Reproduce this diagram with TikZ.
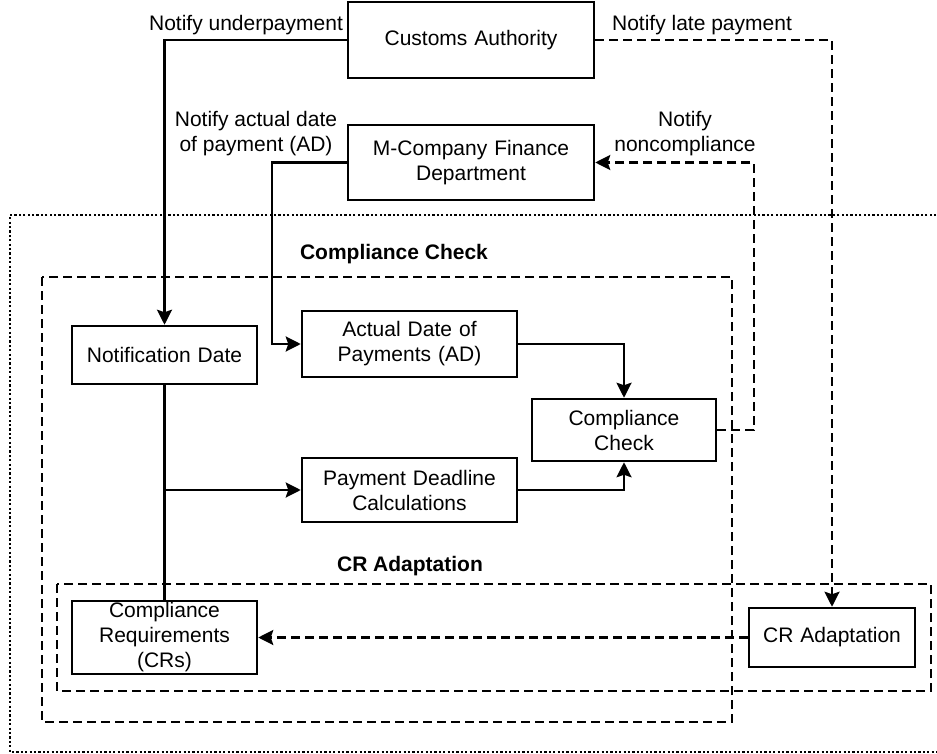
\documentclass[tikz,border=0pt]{standalone}
\usepackage{fontspec}
\setmainfont{Liberation Sans}
\usepackage{tikz}
\usetikzlibrary{calc,positioning,arrows.meta}

\tikzset{
	box/.style={draw,line width=2.5pt,inner sep=0pt,align=center,text width=#1},
	box/.default=180pt,
	grp/.style={line width=2.5pt,dash pattern=on 9pt off 5pt},
	link/.style={line width=2.5pt,-{Stealth[length=15pt,width=15pt,inset=2.5pt]}},
	dlink/.style={link,dash pattern=on 9pt off 5pt},
	lbl/.style={align=center,inner sep=0pt},
	grplbl/.style={font=\fontsize{21}{25}\selectfont\bfseries,inner sep=0pt}
}

\begin{document}
\begin{tikzpicture}[x=1pt,y=-1pt,font=\fontsize{21}{25}\selectfont]
		\useasboundingbox (0,0) rectangle (937,754);
		\draw[line width=2.5pt,dash pattern=on 2.2pt off 2.2pt] (945,215) -- (10,215) -- (10,752) -- (945,752);
		\draw[grp] (42,277) rectangle (732,722);
		\draw[grp] (57,584) rectangle (931,691);
		\node[grplbl] (cclbl) at (394,254) {Compliance Check};
		\node[grplbl] (cralbl) at (410,566) {CR Adaptation};
		\node[box=240pt,minimum width=246pt,minimum height=76pt] (ca) at (471,40) {Customs Authority};
		\node[box=240pt,minimum width=246pt,minimum height=75pt] (mfd) at (471,162.5) {M-Company Finance\\Department};
		\node[box,minimum width=185pt,minimum height=58pt] (nd) at (164.5,355) {Notification Date};
		\node[box=210pt,minimum width=215pt,minimum height=66pt] (ad) at (409.5,344) {Actual Date of\\Payments (AD)};
		\node[box,minimum width=184pt,minimum height=62pt] (cc) at (624,430) {Compliance\\Check};
		\node[box=210pt,minimum width=215pt,minimum height=64pt] (pdc) at (409.5,490) {Payment Deadline\\Calculations};
		\node[box,minimum width=185pt,minimum height=73pt] (cr) at (164.5,637.5) {Compliance\\Requirements\\(CRs)};
		\node[box=160pt,minimum width=166pt,minimum height=59pt] (cra) at (832,637.5) {CR Adaptation};
		\node[lbl] (nup) at (246,25) {Notify underpayment};
		\node[lbl] (nlp) at (702,25) {Notify late payment};
		\node[lbl] (nad) at (256,134) {Notify actual date\\of payment (AD)};
		\node[lbl] (nnc) at (685,134) {Notify\\noncompliance};
		\coordinate (adturn) at (272,162.5);
		\coordinate (ncturn) at (754,430);
		\draw[link] (ca.west) -| (nd.north);
		\draw[link] (mfd.west) -- (adturn) |- (ad.west);
		\draw[link] (ad.east) -| (cc.north);
		\draw[link] (pdc.east) -| (cc.south);
		\draw[line width=2.5pt] (nd.south) -- (cr.north);
		\draw[link] (nd.south |- pdc.west) -- (pdc.west);
		\draw[dlink] (cra.west) -- (cr.east);
		\draw[dlink] (ca.east) -| (cra.north);
		\draw[dlink] (cc.east) -- (ncturn) |- (mfd.east);
	\end{tikzpicture}
\end{document}
